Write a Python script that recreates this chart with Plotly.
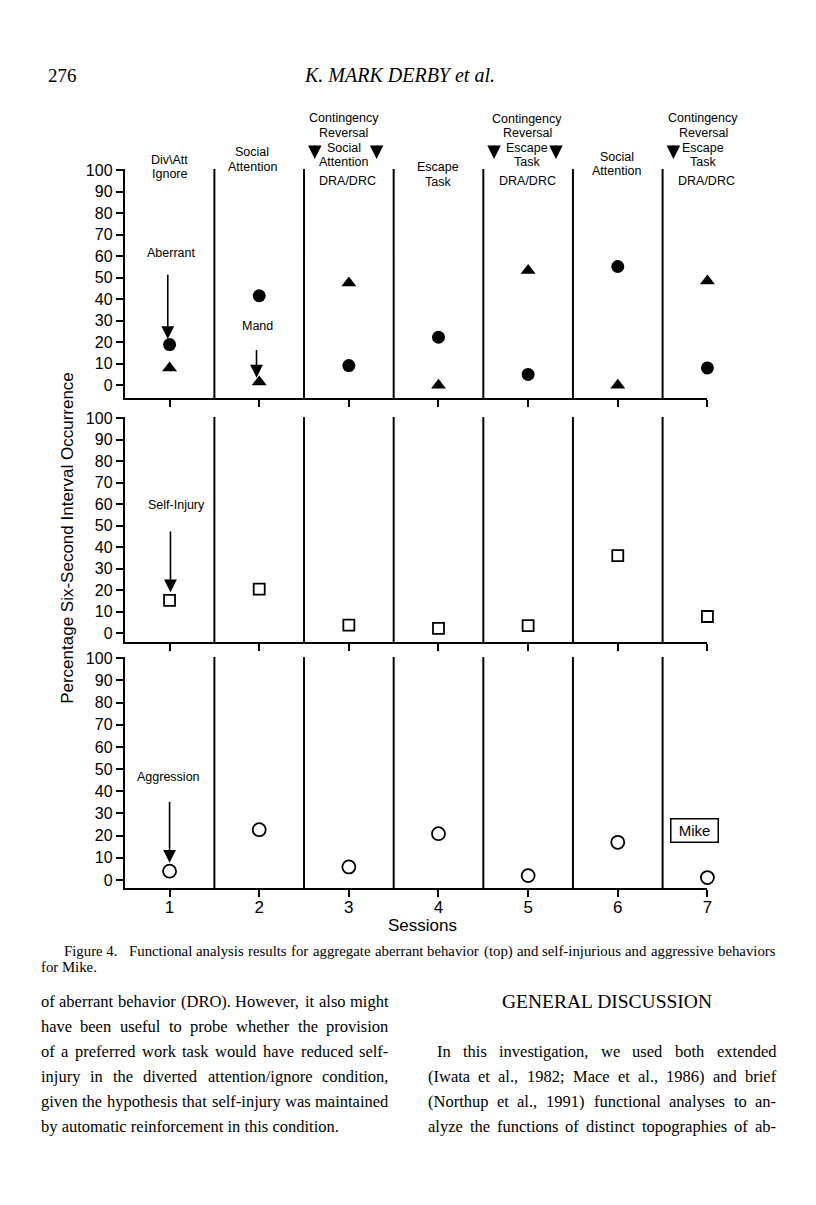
import plotly.graph_objects as go

# page is shown with the browser's default 8px body margin -> figure drawn 8px in
OFF = 8
W, H = 816 - 2 * OFF, 1205 - 2 * OFF

# ---------------- data ----------------
sessions = [1, 2, 3, 4, 5, 6, 7]
session_labels = ["1", "2", "3", "4", "5", "6", "7"]
aberrant = [18.9, 41.6, 9.1, 22.3, 5.0, 55.2, 8.0]      # filled circles (top)
mand = [8.0, 1.5, 47.5, 0.0, 53.3, 0.0, 48.5]            # filled triangles (top)
self_injury = [15.2, 20.4, 3.7, 2.2, 3.4, 36.0, 7.7]     # open squares (middle)
aggression = [4.0, 22.7, 5.9, 20.9, 2.0, 17.0, 1.1]      # open circles (bottom)
y_ticks = [0, 10, 20, 30, 40, 50, 60, 70, 80, 90, 100]
phase_changes = [1.5, 2.5, 3.5, 4.5, 5.5, 6.5]

condition_labels = [
    ["Div\\Att", "Ignore"],
    ["Social", "Attention"],
    ["Contingency", "Reversal", "Social", "Attention"],
    ["Escape", "Task"],
    ["Contingency", "Reversal", "Escape", "Task"],
    ["Social", "Attention"],
    ["Contingency", "Reversal", "Escape", "Task"],
]
reversal_sessions = [3, 5, 7]
reversal_sub = "DRA/DRC"

caption_lines = [
    "Figure\u00a04.\u00a0\u00a0 Functional analysis results for aggregate aberrant behavior (top) and self-injurious and aggressive behaviors",
    "for Mike.",
]
left_col = [
    "of aberrant behavior (DRO). However, it also might",
    "have been useful to probe whether the provision",
    "of a preferred work task would have reduced self-",
    "injury in the diverted attention/ignore condition,",
    "given the hypothesis that self-injury was maintained",
    "by automatic reinforcement in this condition.",
]
right_heading = "GENERAL DISCUSSION"
right_col = [
    "In this investigation, we used both extended",
    "(Iwata et al., 1982; Mace et al., 1986) and brief",
    "(Northup et al., 1991) functional analyses to an-",
    "alyze the functions of distinct topographies of ab-",
]

# ---------------- layout helpers ----------------
SANS = "Liberation Sans, Arial, Helvetica, sans-serif"
SERIF = "Liberation Serif, Times New Roman, serif"


def py(p):
    p = p - 6.5 + 0.0067 * (p - 75)
    return 1 - (p - OFF) / H


def px(p):
    p = p + 0.0057 * (p - 40)
    return (p - OFF) / W


# Times/Liberation Serif advance widths (per 1000 em) for justification
TW = {" ": 250, "\u00a0": 250, ".": 250, ",": 250, "(": 333, ")": 333, "-": 333, ";": 278,
      ":": 278, "/": 278, "'": 333}
TW.update({c: w for c, w in zip("abcdefghijklmnopqrstuvwxyz",
                                [444, 500, 444, 500, 444, 333, 500, 500, 278, 278, 500, 278, 778,
                                 500, 500, 500, 500, 333, 389, 278, 500, 500, 722, 500, 500, 444])})
TW.update({c: w for c, w in zip("ABCDEFGHIJKLMNOPQRSTUVWXYZ",
                                [722, 667, 667, 722, 611, 556, 722, 722, 333, 389, 722, 611, 889,
                                 722, 722, 556, 722, 667, 556, 611, 722, 722, 944, 722, 722, 611])})
TW.update({c: 500 for c in "0123456789"})


def tw(s, size):
    return sum(TW.get(c, 500) for c in s) / 1000 * size


X_DOM = [px(125), px(708)]
panels = {  # pixel top, pixel bottom, y range
    "1": (169, 398, [-6.0, 100.5]),
    "2": (417, 642, [-4.2, 100.5]),
    "3": (657, 888, [-3.6, 100.5]),
}

fig = go.Figure()

fig.add_trace(go.Scatter(x=sessions, y=aberrant, mode="markers", xaxis="x", yaxis="y",
                         marker=dict(symbol="circle", size=13, color="black"), cliponaxis=False))
fig.add_trace(go.Scatter(x=sessions, y=mand, mode="markers", xaxis="x", yaxis="y",
                         marker=dict(symbol="triangle-up", size=13, color="black"), cliponaxis=False))
fig.add_trace(go.Scatter(x=sessions, y=self_injury, mode="markers", xaxis="x2", yaxis="y2",
                         marker=dict(symbol="square-open", size=11, color="black", line=dict(width=1.8)),
                         cliponaxis=False))
fig.add_trace(go.Scatter(x=sessions, y=aggression, mode="markers", xaxis="x3", yaxis="y3",
                         marker=dict(symbol="circle-open", size=13, color="black", line=dict(width=1.8)),
                         cliponaxis=False))

layout = dict(
    width=W, height=H, margin=dict(l=0, r=0, t=0, b=0),
    paper_bgcolor="white", plot_bgcolor="white", showlegend=False,
    font=dict(family=SANS, color="black"),
)

for k, (top, bot, rng) in panels.items():
    xa = "xaxis" if k == "1" else "xaxis" + k
    ya = "yaxis" if k == "1" else "yaxis" + k
    ykey = "y" if k == "1" else "y" + k
    xkey = "x" if k == "1" else "x" + k
    layout[xa] = dict(domain=X_DOM, range=[0.5, 7.0], anchor=ykey, showgrid=False, zeroline=False,
                      showline=True, linecolor="black", linewidth=2,
                      ticks="outside", ticklen=7, tickwidth=1.8, tickcolor="black",
                      tickvals=sessions, ticktext=session_labels, ticklabelstandoff=-4,
                      showticklabels=(k == "3"), tickfont=dict(family=SANS, size=17, color="black"))
    layout[ya] = dict(domain=[py(bot), py(top)], range=rng, anchor=xkey, showgrid=False, zeroline=False,
                      showline=True, linecolor="black", linewidth=2,
                      ticks="outside", ticklen=7, tickwidth=1.8, tickcolor="black",
                      tickvals=y_ticks, tickfont=dict(family=SANS, size=16, color="black"))

shapes = []
for k in ["1", "2", "3"]:
    xkey = "x" if k == "1" else "x" + k
    ykey = "y" if k == "1" else "y" + k
    for xc in phase_changes:
        shapes.append(dict(type="line", xref=xkey, yref=ykey + " domain", x0=xc, x1=xc, y0=0, y1=1,
                           line=dict(color="black", width=2)))
layout["shapes"] = shapes

ann = []


def page_text(text, x, y, size, family=SERIF, xanchor="left", **kw):
    ann.append(dict(text=text, x=px(x), y=py(y), xref="paper", yref="paper", showarrow=False,
                    xanchor=xanchor, yanchor="middle", borderpad=0,
                    font=dict(family=family, size=size, color="black"), **kw))


def justified(line, x0, x1, y, size):
    words = line.split(" ")
    widths = [tw(w, size) for w in words]
    gap = (x1 - x0 - sum(widths)) / max(len(words) - 1, 1)
    cur = x0
    for w, wd in zip(words, widths):
        page_text(w, cur, y, size)
        cur += wd + gap


# condition labels at top (pixel y for each text line)
cond_line_y = {
    1: [160, 174], 2: [152, 167], 3: [118, 133, 148, 162], 4: [167, 182],
    5: [119, 133, 148, 162], 6: [157, 171], 7: [118, 133, 148, 162],
}
cond_xshift = {1: 0, 2: -7, 3: -5, 4: 0, 5: -1, 6: -1, 7: -4}
for s, lines in zip(sessions, condition_labels):
    for txt, ly in zip(lines, cond_line_y[s]):
        ann.append(dict(text=txt, x=s, xref="x", y=py(ly), yref="paper", showarrow=False,
                        xanchor="center", yanchor="middle", xshift=cond_xshift[s], borderpad=0,
                        font=dict(family=SANS, size=12.5, color="black")))
for s in reversal_sessions:
    ann.append(dict(text=reversal_sub, x=s, xref="x", y=py(181), yref="paper", showarrow=False,
                    xanchor="center", yanchor="middle", xshift=-1, borderpad=0,
                    font=dict(family=SANS, size=12.5, color="black")))
    for dx in (-0.38, 0.31):
        ann.append(dict(text="", x=s + dx, xref="x", y=py(159), yref="paper", showarrow=True,
                        ax=0, ay=-15, arrowhead=2, arrowsize=1.35, arrowwidth=2, arrowcolor="black",
                        standoff=0))


def label_arrow(text, xr, yr, lx, ly, tip, tail, x_arrow):
    ann.append(dict(text=text, x=lx, y=ly, xref=xr, yref=yr, showarrow=False,
                    xanchor="center", yanchor="middle",
                    font=dict(family=SANS, size=12.5, color="black")))
    ann.append(dict(text="", x=x_arrow, y=tip, xref=xr, yref=yr, ax=x_arrow, ay=tail,
                    axref=xr, ayref=yr, showarrow=True, arrowhead=2, arrowsize=1.6,
                    arrowwidth=1.6, arrowcolor="black", standoff=0))


label_arrow("Aberrant", "x", "y", 1.02, 61.5, 21.5, 52, 0.98)
label_arrow("Mand", "x", "y", 1.98, 27.5, 3.5, 17, 1.97)
label_arrow("Self-Injury", "x2", "y2", 1.08, 59.5, 19, 48, 1.01)
label_arrow("Aggression", "x3", "y3", 0.99, 46.5, 7.8, 36, 1.0)

# Mike box
ann.append(dict(text="Mike", x=6.86, y=22.5, xref="x3", yref="y3", showarrow=False,
                xanchor="center", yanchor="middle",
                bordercolor="black", borderwidth=1.5, borderpad=2, width=42, height=18,
                font=dict(family=SANS, size=15, color="black")))

# axis titles
page_text("Percentage Six-Second Interval Occurrence", 67, 538, 17, family=SANS, xanchor="center",
          textangle=-90)
page_text("Sessions", 423, 925, 17, family=SANS, xanchor="center")

# page header
page_text("276", 47, 75, 19)
page_text("<i>K. MARK DERBY et al.</i>", 303, 75, 20)

# caption
justified(caption_lines[0], 63, 775, 951, 14.8)
page_text(caption_lines[1], 40, 967, 14.8)

# body text
body_y = [1001, 1026, 1051, 1076, 1101, 1126]
for i, (t, ly) in enumerate(zip(left_col, body_y)):
    if i < len(left_col) - 1:
        justified(t, 40, 388, ly, 16.5)
    else:
        page_text(t, 40, ly, 16.5)
page_text(right_heading, 608, 1001, 19.5, xanchor="center")
for i, (t, ly) in enumerate(zip(right_col, body_y[2:])):
    justified(t, 436 if i == 0 else 427, 776, ly, 16.5)

layout["annotations"] = ann
fig.update_layout(**layout)
fig.write_html("out.html")
